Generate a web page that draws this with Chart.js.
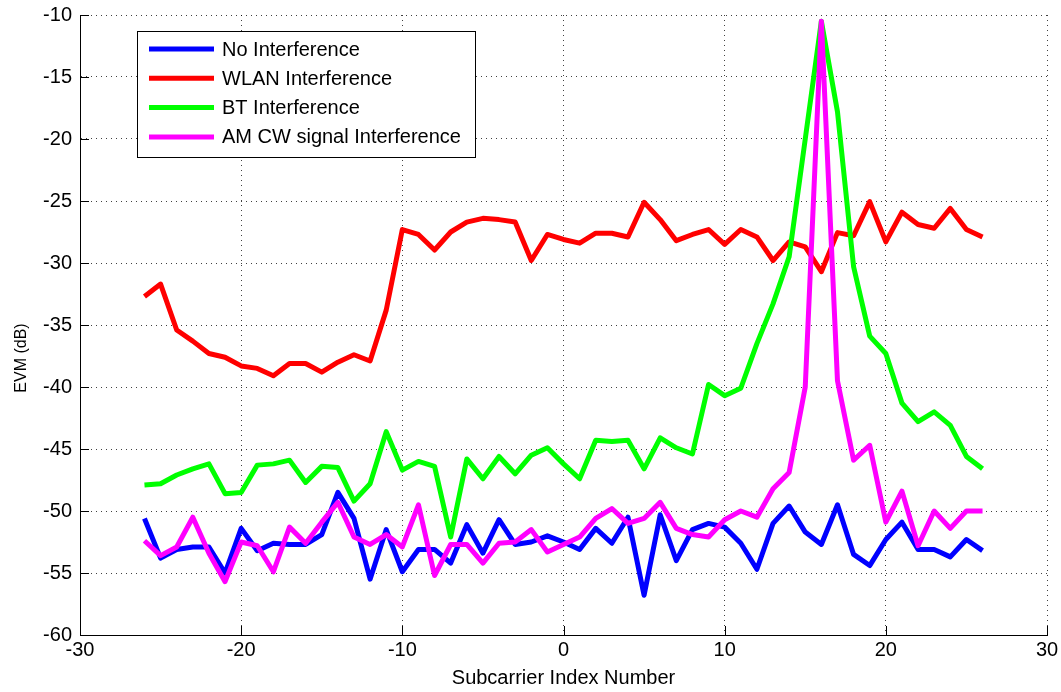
<!DOCTYPE html>
<html><head><meta charset="utf-8">
<script src="https://cdn.jsdelivr.net/npm/chart.js@4.4.1/dist/chart.umd.min.js"></script>
<style>html,body{margin:0;padding:0;background:#fff;}#wrap{width:1061px;height:692px;}</style>
</head><body><div id="wrap"><canvas id="c" width="1061" height="692"></canvas></div>
<script>
const subcarriers = [-26,-25,-24,-23,-22,-21,-20,-19,-18,-17,-16,-15,-14,-13,-12,-11,-10,-9,-8,-7,-6,-5,-4,-3,-2,-1,0,1,2,3,4,5,6,7,8,9,10,11,12,13,14,15,16,17,18,19,20,21,22,23,24,25,26];
const noInterference = [-50.6,-53.8,-53.1,-52.9,-52.9,-55.0,-51.4,-53.2,-52.6,-52.7,-52.7,-51.9,-48.5,-50.6,-55.5,-51.5,-54.9,-53.1,-53.1,-54.2,-51.1,-53.4,-50.7,-52.7,-52.5,-52.0,-52.5,-53.1,-51.4,-52.6,-50.5,-56.8,-50.3,-54.0,-51.5,-51.0,-51.3,-52.6,-54.7,-51.0,-49.6,-51.7,-52.7,-49.5,-53.5,-54.4,-52.3,-50.9,-53.1,-53.1,-53.7,-52.3,-53.2];
const wlanInterference = [-32.7,-31.7,-35.4,-36.3,-37.3,-37.6,-38.3,-38.5,-39.1,-38.1,-38.1,-38.8,-38.0,-37.4,-37.9,-33.8,-27.3,-27.7,-28.95,-27.5,-26.7,-26.4,-26.5,-26.7,-29.8,-27.7,-28.1,-28.4,-27.6,-27.6,-27.9,-25.1,-26.5,-28.2,-27.7,-27.3,-28.5,-27.3,-27.9,-29.8,-28.3,-28.7,-30.7,-27.55,-27.8,-25.05,-28.3,-25.9,-26.9,-27.2,-25.6,-27.3,-27.9];
const btInterference = [-47.9,-47.8,-47.1,-46.6,-46.2,-48.6,-48.5,-46.3,-46.2,-45.9,-47.7,-46.4,-46.5,-49.2,-47.8,-43.6,-46.7,-46.0,-46.4,-52.1,-45.8,-47.4,-45.6,-47.0,-45.5,-44.9,-46.2,-47.4,-44.3,-44.4,-44.3,-46.6,-44.1,-44.9,-45.4,-39.8,-40.7,-40.1,-36.5,-33.3,-29.5,-20.0,-10.5,-17.8,-30.3,-35.9,-37.3,-41.3,-42.8,-42.0,-43.1,-45.6,-46.6];
const amcwInterference = [-52.4,-53.6,-52.9,-50.5,-53.4,-55.7,-52.5,-52.8,-54.9,-51.3,-52.6,-50.9,-49.3,-52.1,-52.7,-51.9,-52.9,-49.5,-55.2,-52.7,-52.7,-54.2,-52.6,-52.5,-51.5,-53.3,-52.7,-52.1,-50.6,-49.8,-51.0,-50.6,-49.3,-51.4,-51.9,-52.1,-50.7,-50.0,-50.5,-48.2,-46.9,-40.0,-10.5,-39.5,-45.9,-44.7,-50.9,-48.4,-52.8,-50.0,-51.4,-50.0,-50.0];
const seriesNames = ['No Interference','WLAN Interference','BT Interference','AM CW signal Interference'];
const seriesColors = ['#0000ff','#ff0000','#00ff00','#ff00ff'];
const xTicks = [-30,-20,-10,0,10,20,30];
const yTicks = [-60,-55,-50,-45,-40,-35,-30,-25,-20,-15,-10];
const xTitle = 'Subcarrier Index Number';
const yTitle = 'EVM (dB)';

const FONT = '"Liberation Sans", Arial, sans-serif';
const allSeries = [noInterference, wlanInterference, btInterference, amcwInterference];
const datasets = allSeries.map((vals, i) => ({
  label: seriesNames[i],
  data: subcarriers.map((x, j) => ({x: x, y: vals[j]})),
  borderColor: seriesColors[i],
  backgroundColor: seriesColors[i],
  borderWidth: 5,
  pointRadius: 0,
  tension: 0,
  fill: false,
  order: 3 - i,
  borderJoinStyle: 'round',
  borderCapStyle: 'butt'
}));

const innerTicks = {
  id: 'innerTicks',
  beforeDatasetsDraw(chart) {
    const {ctx, chartArea: a, scales: {x, y}} = chart;
    ctx.save();
    ctx.strokeStyle = '#000';
    ctx.lineWidth = 1;
    ctx.beginPath();
    xTicks.forEach(v => { const px = Math.round(x.getPixelForValue(v)) + 0.5; ctx.moveTo(px, a.bottom); ctx.lineTo(px, a.bottom - 9); });
    yTicks.forEach(v => { const py = Math.round(y.getPixelForValue(v)) + 0.5; ctx.moveTo(a.left, py); ctx.lineTo(a.left + 9, py); });
    ctx.stroke();
    ctx.restore();
  }
};

const yLabel = {
  id: 'yLabel',
  afterDraw(chart) {
    const {ctx} = chart;
    ctx.save();
    ctx.translate(22, 358);
    ctx.rotate(-Math.PI / 2);
    ctx.font = '16px ' + FONT;
    ctx.fillStyle = '#000';
    ctx.textAlign = 'center';
    ctx.textBaseline = 'middle';
    ctx.fillText(yTitle, 0, 0);
    ctx.restore();
  }
};

const boxLegend = {
  id: 'boxLegend',
  afterDatasetsDraw(chart) {
    const {ctx} = chart;
    const L = 137.5, T = 31.5, W = 338, H = 126;
    ctx.save();
    ctx.fillStyle = '#fff';
    ctx.fillRect(L, T, W, H);
    ctx.strokeStyle = '#000';
    ctx.lineWidth = 1;
    ctx.strokeRect(L, T, W, H);
    ctx.font = '20px ' + FONT;
    ctx.textBaseline = 'middle';
    ctx.textAlign = 'left';
    chart.data.datasets.forEach((ds, i) => {
      const yy = 49 + i * 29.3;
      ctx.strokeStyle = ds.borderColor;
      ctx.lineWidth = 5;
      ctx.beginPath(); ctx.moveTo(149, yy); ctx.lineTo(214, yy); ctx.stroke();
      ctx.fillStyle = '#000';
      ctx.fillText(ds.label, 222, yy + 1);
    });
    ctx.restore();
  }
};

new Chart(document.getElementById('c'), {
  type: 'line',
  data: {datasets},
  options: {
    responsive: false,
    animation: false,
    events: [],
    layout: {padding: {top: 15, right: 14, left: 0, bottom: 0}},
    plugins: {legend: {display: false}, tooltip: {enabled: false}},
    scales: {
      x: {
        type: 'linear', min: -30, max: 30,
        afterBuildTicks: s => { s.ticks = xTicks.map(v => ({value: v})); },
        afterFit: s => { s.height = 57; s.paddingLeft = 0; s.paddingRight = 0; },
        grid: {color: 'rgba(0,0,0,0.75)', lineWidth: 1, drawTicks: false},
        border: {display: true, color: '#000', width: 1, dash: [1, 4]},
        ticks: {color: '#000', padding: 3, maxRotation: 0, autoSkip: false, font: {family: FONT, size: 20}},
        title: {display: true, text: xTitle, color: '#000', font: {family: FONT, size: 20}, padding: {top: 0, bottom: 2}}
      },
      y: {
        type: 'linear', min: -60, max: -10,
        afterBuildTicks: s => { s.ticks = yTicks.map(v => ({value: v})); },
        afterFit: s => { s.width = 80; s.paddingTop = 0; s.paddingBottom = 0; },
        grid: {color: 'rgba(0,0,0,0.75)', lineWidth: 1, drawTicks: false},
        border: {display: true, color: '#000', width: 1, dash: [1, 4]},
        ticks: {color: '#000', padding: 8, autoSkip: false, font: {family: FONT, size: 20}},
        title: {display: false}
      }
    }
  },
  plugins: [innerTicks, boxLegend, yLabel]
});
</script>
</body></html>
